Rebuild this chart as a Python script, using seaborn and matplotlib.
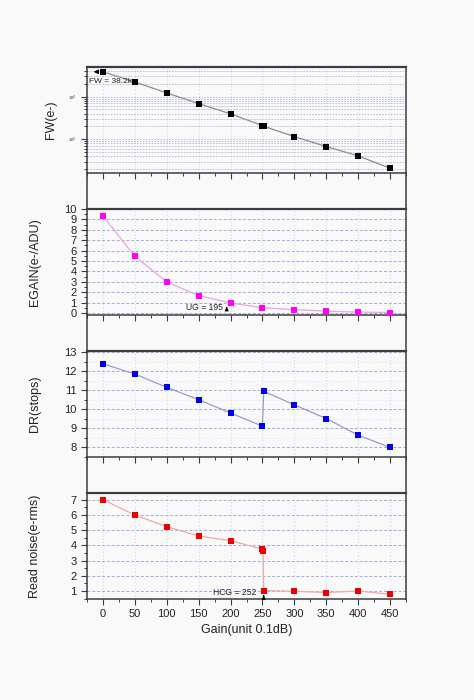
import numpy as np
import pandas as pd
import seaborn as sns
import matplotlib
matplotlib.use('Agg')
import matplotlib.pyplot as plt
from matplotlib.ticker import MultipleLocator, LogLocator, NullFormatter
from matplotlib.lines import Line2D

# data
fw_gain = [0, 50, 100, 150, 200, 250, 252, 300, 350, 400, 450]
fw_val = [38200, 22100, 12200, 6870, 3940, 2100, 2020, 1157, 676, 408, 210]

eg_gain = [0, 50, 100, 150, 200, 250, 300, 350, 400, 450]
eg_val = [9.33, 5.45, 2.98, 1.66, 0.96, 0.50, 0.32, 0.17, 0.08, 0.04]

dr_gain = [0, 50, 100, 150, 200, 250, 252, 300, 350, 400, 450]
dr_val = [12.40, 11.86, 11.16, 10.51, 9.81, 9.12, 10.95, 10.24, 9.52, 8.65, 8.0]

rn_gain = [0, 50, 100, 150, 200, 250, 251, 252, 300, 350, 400, 450]
rn_val = [7.0, 5.99, 5.23, 4.61, 4.31, 3.74, 3.63, 1.02, 0.98, 0.89, 1.0, 0.78]

x_ticks = [0, 50, 100, 150, 200, 250, 300, 350, 400, 450]

bg = '#f9f9f9'
frame = '#3c3c3c'

sns.set_style('ticks')
plt.rcParams['font.family'] = ['Liberation Sans', 'DejaVu Sans']

fig = plt.figure(figsize=(4.74, 7.0), dpi=100, facecolor=bg)

left, width, height = 87/474, 319/474, 106/700
bottoms = [1-173/700, 1-315/700, 1-457/700, 1-599/700]
axes = [fig.add_axes([left, b, width, height]) for b in bottoms]

panels = [
    (fw_gain, fw_val, '#000000', '#8c8c8c', 'FW(e-)'),
    (eg_gain, eg_val, '#ff00ff', '#e6a6e6', 'EGAIN(e-/ADU)'),
    (dr_gain, dr_val, '#0000ee', '#9a9acc', 'DR(stops)'),
    (rn_gain, rn_val, '#ee0000', '#f0aaaa', 'Read noise(e-rms)'),
]

for i, (ax, (gx, gy, mc, lc, lab)) in enumerate(zip(axes, panels)):
    ax.set_facecolor(bg)
    df = pd.DataFrame({'gain': gx, 'val': gy})
    sns.lineplot(data=df, x='gain', y='val', ax=ax, color=lc, linewidth=0.9,
                 estimator=None, sort=False, zorder=3)
    sns.scatterplot(data=df, x='gain', y='val', ax=ax, color=mc, marker='s',
                    s=17, linewidth=0, zorder=4)
    ax.set_xlim(-25, 475)
    ax.set_xticks(x_ticks)
    ax.xaxis.set_minor_locator(MultipleLocator(25))
    ax.grid(axis='x', which='major', color='#bfe9f0', linestyle=':', linewidth=0.9)
    for s in ax.spines.values():
        s.set_color(frame)
        s.set_linewidth(1.1)
    ax.spines['top'].set_linewidth(1.6)
    ax.tick_params(axis='both', which='major', direction='out', length=4, width=0.8,
                   colors=frame, labelsize=8, labelcolor='#222222')
    ax.tick_params(axis='both', which='minor', direction='out', length=2.2, width=0.7,
                   colors=frame)
    ax.set_ylabel(lab, fontsize=9, color='#222222')
    ax.yaxis.set_label_coords(-0.145, 0.5)
    ax.set_xlabel('')
    if i < 3:
        ax.tick_params(axis='x', which='both', labelbottom=False)

# FW panel, log scale
ax = axes[0]
ax.set_yscale('log')
ax.set_ylim(162, 49500)
ax.yaxis.set_major_locator(LogLocator(base=10))
ax.yaxis.set_minor_locator(LogLocator(base=10, subs=np.arange(2, 10)))
ax.yaxis.set_minor_formatter(NullFormatter())
ax.tick_params(axis='y', which='major', labelsize=3)
ax.grid(axis='y', which='both', color='#b4b4e0', linestyle=(0, (2, 1.5)), linewidth=0.6)
ax.yaxis.set_label_coords(-0.094, 0.5)
ax.annotate('', xy=(-19, fw_val[0]), xytext=(-4, fw_val[0]),
            arrowprops=dict(arrowstyle='-|>', color='black', lw=0.9, mutation_scale=6))
ax.text(-22, 22100, 'FW = 38.2k', fontsize=6, va='center', ha='left', color='#222222')

# EGAIN panel
ax = axes[1]
ax.set_ylim(-0.2, 10)
ax.set_yticks(range(0, 11))
ax.yaxis.set_minor_locator(MultipleLocator(0.5))
ax.grid(axis='y', which='major', color='#a8a8dc', linestyle=(0, (3, 2)), linewidth=0.7)
ax.text(188, 0.48, 'UG = 195', fontsize=6.2, va='center', ha='right', color='#222222')
ax.annotate('', xy=(194, 0.85), xytext=(194, 0.15),
            arrowprops=dict(arrowstyle='-|>', color='black', lw=0.8, mutation_scale=5))

# DR panel
ax = axes[2]
ax.set_ylim(7.5, 13.07)
ax.set_yticks(range(8, 14))
ax.yaxis.set_minor_locator(MultipleLocator(0.5))
ax.grid(axis='y', which='major', color='#a8a8dc', linestyle=(0, (3, 2)), linewidth=0.7)
ax.grid(axis='y', which='minor', color='#dcdcf0', linestyle=':', linewidth=0.5)

# Read noise panel
ax = axes[3]
ax.set_ylim(0.47, 7.44)
ax.set_yticks(range(1, 8))
ax.yaxis.set_minor_locator(MultipleLocator(0.5))
ax.grid(axis='y', which='major', color='#a8a8dc', linestyle=(0, (3, 2)), linewidth=0.7)
ax.set_xlabel('Gain(unit 0.1dB)', fontsize=9, color='#222222', labelpad=3)
ax.text(240, 0.87, 'HCG = 252', fontsize=6.2, va='center', ha='right', color='#222222')
ax.annotate('', xy=(252, 0.9), xytext=(252, 0.47),
            arrowprops=dict(arrowstyle='-|>', color='black', lw=0.8, mutation_scale=5),
            annotation_clip=False)

# side lines in the gaps between stacked panels
gaps = [(173, 209), (315, 351), (457, 493)]
for y0, y1 in gaps:
    for xp in (87, 406):
        fig.add_artist(Line2D([xp/474, xp/474], [1-y0/700, 1-y1/700],
                              color=frame, linewidth=1.1))

fig.savefig('out.png', dpi=100, facecolor=bg)
